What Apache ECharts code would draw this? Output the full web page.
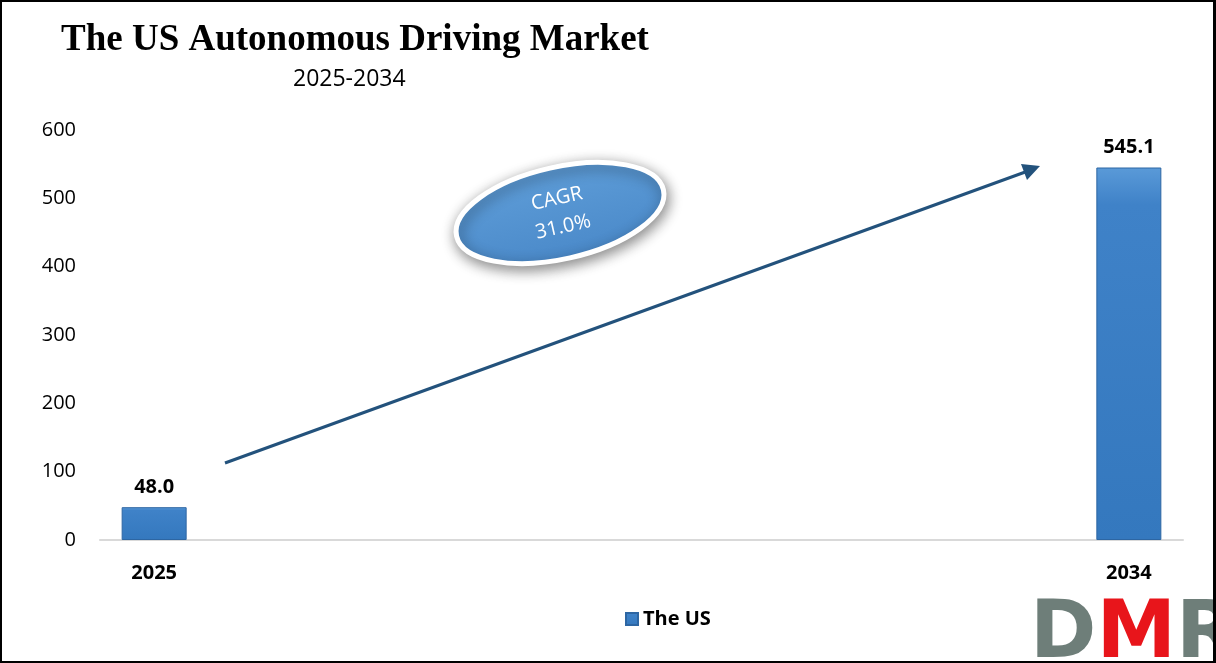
<!DOCTYPE html>
<html>
<head>
<meta charset="utf-8">
<script src="https://cdn.jsdelivr.net/npm/echarts@6/dist/echarts.min.js"></script>
<style>
html,body{margin:0;padding:0;background:#fff;}
#wrap{position:relative;width:1216px;height:663px;}
#c{width:1216px;height:663px;}
#frame{position:absolute;left:0;top:0;width:1216px;height:663px;box-sizing:border-box;border:2px solid #000;border-right-width:3px;pointer-events:none;}
</style>
</head>
<body>
<div id="wrap"><div id="c"></div><div id="frame"></div></div>
<script>
const categories = ['2025','2026','2027','2028','2029','2030','2031','2032','2033','2034'];
const usValues = [48.0, null, null, null, null, null, null, null, null, 545.1];
const seriesName = 'The US';
const yTicks = { min: 0, max: 600, interval: 100 };
const cagrText = 'CAGR\n31.0%';

const chart = echarts.init(document.getElementById('c'), null, {renderer:'canvas'});
const barColor = new echarts.graphic.LinearGradient(0,0,0,1,[
  {offset:0,color:'#5a9ad8'},{offset:0.1,color:'#3f82c8'},{offset:1,color:'#3478be'}
]);
const option = {
  animation:false,
  backgroundColor:'#fff',
  title:[
    {text:'The US Autonomous Driving Market',left:56,top:17,
     textStyle:{fontFamily:'Liberation Serif',fontWeight:'bold',fontSize:37,color:'#000'}},
    {text:'2025-2034',left:288,top:63,
     textStyle:{fontFamily:'Open Sans',fontWeight:'normal',fontSize:23,color:'#000'}}
  ],
  legend:{
    data:[seriesName],left:620,top:604,itemWidth:12,itemHeight:12,itemGap:6,
    icon:'rect',
    textStyle:{fontFamily:'Open Sans',fontWeight:'bold',fontSize:20,color:'#000'}
  },
  grid:{left:100,right:33,top:130,bottom:123,containLabel:false},
  xAxis:{
    type:'category',data:categories,
    axisLine:{lineStyle:{color:'#d9d9d9',width:2}},
    axisTick:{show:false},
    axisLabel:{interval:(i)=>i===0||i===categories.length-1,margin:23,
      fontFamily:'Open Sans',fontWeight:'bold',fontSize:20,color:'#000'}
  },
  yAxis:{
    type:'value',min:yTicks.min,max:yTicks.max,interval:yTicks.interval,
    axisLine:{show:false},axisTick:{show:false},splitLine:{show:false},
    axisLabel:{margin:24,fontFamily:'Open Sans',fontSize:20,color:'#000'}
  },
  series:[{
    name:seriesName,type:'bar',data:usValues,barWidth:65,
    itemStyle:{color:barColor,borderColor:'#2d66a3',borderWidth:1},
    label:{show:true,position:'top',distance:10,
      formatter:(p)=>p.value==null?'':Number(p.value).toFixed(1),
      fontFamily:'Open Sans',fontWeight:'bold',fontSize:20,color:'#000'}
  }],
  graphic:[
    {type:'line',shape:{x1:225,y1:463,x2:1028,y2:171},
     style:{stroke:'#23527c',lineWidth:3}},
    {type:'polygon',shape:{points:[[1040,166],[1021,164],[1027,180]]},
     style:{fill:'#23527c'}},
    {type:'group',x:560,y:213,rotation:0.22,children:[
      {type:'ellipse',shape:{cx:0,cy:0,rx:106,ry:46},
       style:{fill:new echarts.graphic.LinearGradient(0,0,0,1,[{offset:0,color:'#5e9dd8'},{offset:1,color:'#4a89c9'}]),
         stroke:'#fff',lineWidth:5,shadowBlur:14,shadowColor:'rgba(0,0,0,0.45)',shadowOffsetX:2,shadowOffsetY:4}},
      {type:'text',style:{text:cagrText,x:0,y:0,align:'center',verticalAlign:'middle',
        fontFamily:'Open Sans',fontSize:20,lineHeight:29,fill:'#fff'}}
    ]},
    {type:'text',left:1030,top:596,style:{
      text:'{g|D}{r|M}{g|R}',
      rich:{
        g:{fontFamily:'DejaVu Sans',fontWeight:'bold',fontSize:80,fill:'#6e7e79'},
        r:{fontFamily:'DejaVu Sans',fontWeight:'bold',fontSize:80,fill:'#e8151b'}
      }}}
  ]
};
chart.setOption(option);
</script>
</body>
</html>
